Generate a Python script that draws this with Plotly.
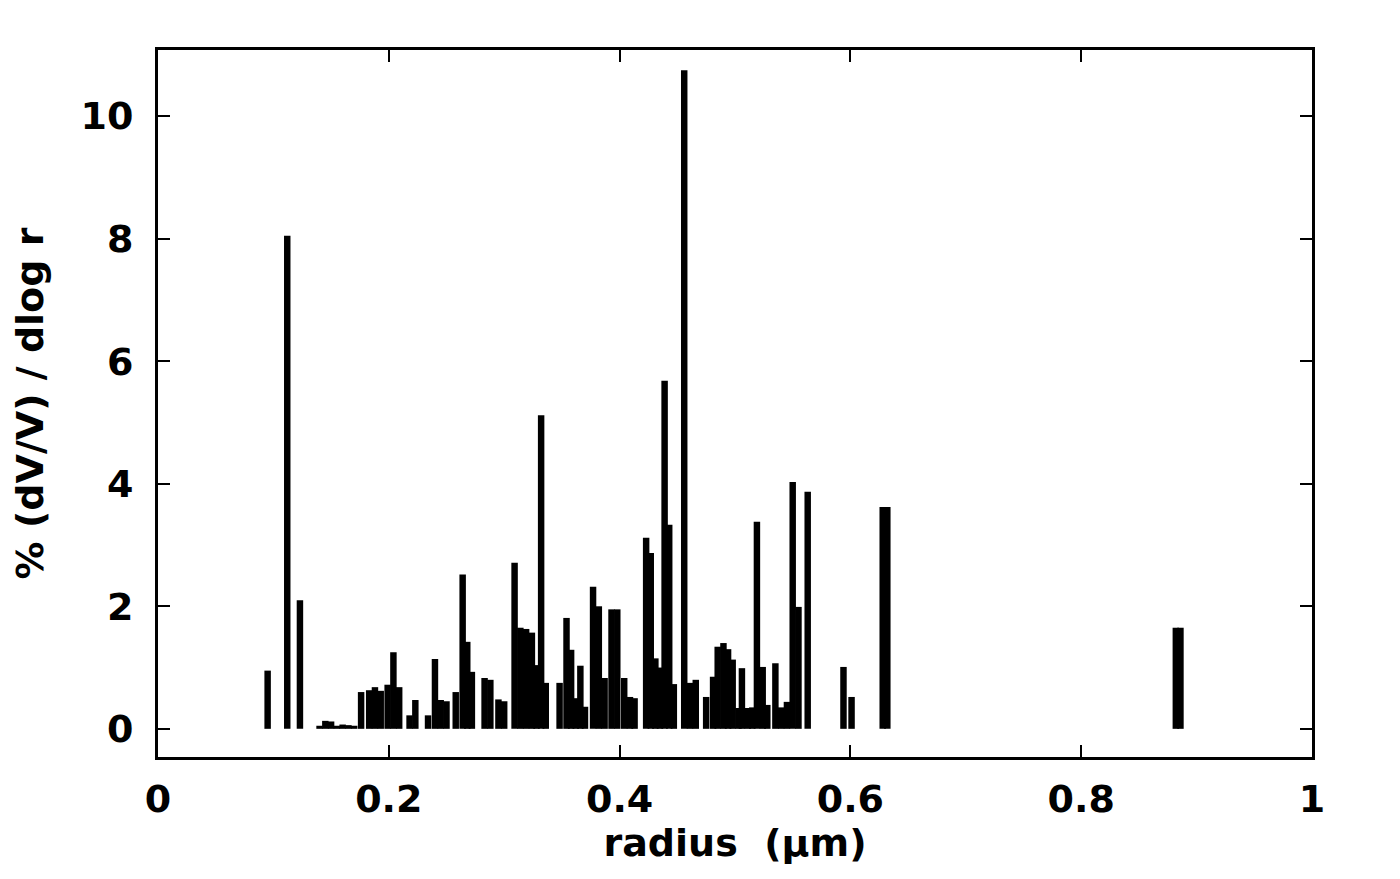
import plotly.graph_objects as go

# bar positions (radius, um) and heights (% dV/V / dlog r)
radius = [
    0.095, 0.112, 0.123, 0.140, 0.145, 0.150, 0.155, 0.160, 0.165, 0.170,
    0.176, 0.183, 0.188, 0.193, 0.199, 0.204, 0.209, 0.218, 0.223, 0.234,
    0.240, 0.245, 0.250, 0.258, 0.264, 0.268, 0.272, 0.283, 0.288, 0.295,
    0.300, 0.309, 0.314, 0.319, 0.324, 0.328, 0.332, 0.336, 0.348, 0.354,
    0.358, 0.362, 0.366, 0.370, 0.377, 0.382, 0.387, 0.393, 0.398, 0.404,
    0.409, 0.413, 0.423, 0.427, 0.431, 0.435, 0.439, 0.443, 0.447, 0.456,
    0.461, 0.466, 0.475, 0.481, 0.485, 0.490, 0.494, 0.498, 0.503, 0.506,
    0.511, 0.515, 0.519, 0.524, 0.528, 0.535, 0.540, 0.545, 0.550, 0.555,
    0.563, 0.594, 0.601, 0.628, 0.632, 0.882, 0.886,
]
pct = [
    0.95, 8.05, 2.10, 0.05, 0.13, 0.12, 0.05, 0.07, 0.06, 0.05,
    0.60, 0.63, 0.68, 0.62, 0.72, 1.25, 0.68, 0.22, 0.47, 0.22,
    1.14, 0.47, 0.45, 0.60, 2.52, 1.42, 0.93, 0.83, 0.80, 0.48,
    0.45, 2.71, 1.65, 1.63, 1.57, 1.04, 5.12, 0.75, 0.75, 1.81,
    1.29, 0.50, 1.03, 0.36, 2.32, 2.00, 0.83, 1.95, 1.95, 0.83,
    0.52, 0.50, 3.12, 2.87, 1.15, 1.00, 5.68, 3.33, 0.73, 10.75,
    0.75, 0.80, 0.52, 0.85, 1.34, 1.40, 1.30, 1.13, 0.34, 0.99,
    0.34, 0.35, 3.38, 1.01, 0.39, 1.07, 0.35, 0.44, 4.03, 1.99,
    3.87, 1.01, 0.52, 3.62, 3.62, 1.65, 1.65,
]

x_ticks = [0, 0.2, 0.4, 0.6, 0.8, 1]
x_labels = ["0", "0.2", "0.4", "0.6", "0.8", "1"]
y_ticks = [0, 2, 4, 6, 8, 10]

font = dict(family="DejaVu Sans", size=38, color="black", weight="bold")

fig = go.Figure()
fig.add_trace(go.Bar(x=radius, y=pct, width=0.0056,
                     marker=dict(color="black", line=dict(width=0))))

axis_common = dict(
    showline=True, linecolor="black", linewidth=3, mirror="ticks",
    ticks="inside", ticklen=12, tickwidth=2, tickcolor="black",
    showgrid=False, zeroline=False, tickfont=font,
)

fig.update_layout(
    width=1400, height=879,
    margin=dict(l=150, r=96, t=42, b=130),
    plot_bgcolor="white", paper_bgcolor="white",
    showlegend=False,
    xaxis=dict(range=[0, 1], tickvals=x_ticks, ticktext=x_labels,
               ticklabelstandoff=6,
               title=dict(text="radius  (μm)", font=font, standoff=8),
               **axis_common),
    yaxis=dict(range=[-0.46, 11.08], tickvals=y_ticks,
               ticklabelstandoff=14,
               title=dict(text="% (dV/V) / dlog r", font=font, standoff=26),
               **axis_common),
)

fig.write_html("out.html")
